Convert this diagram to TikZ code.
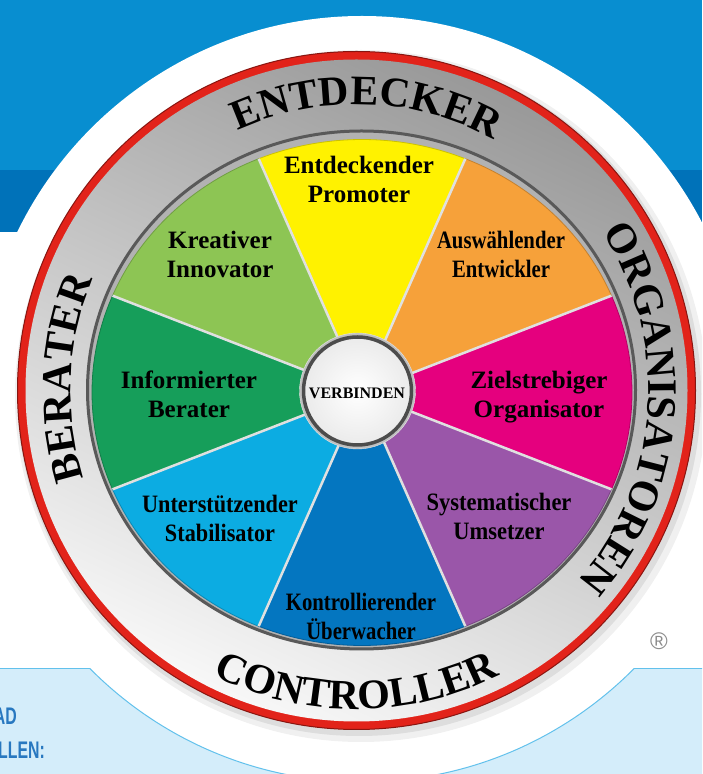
\documentclass[tikz,border=0pt]{standalone}
\usepackage{fontspec}
\setmainfont{Liberation Serif}
\newfontfamily\labelsans{Liberation Sans}
\usetikzlibrary{decorations.text}
\definecolor{topblue}{RGB}{8,142,208}
\definecolor{bandblue}{RGB}{0,114,185}
\definecolor{paleblue}{RGB}{212,237,250}
\definecolor{edgeblue}{RGB}{98,193,236}
\definecolor{ringred}{RGB}{226,35,26}
\definecolor{segyellow}{RGB}{255,242,0}
\definecolor{segorange}{RGB}{246,161,58}
\definecolor{segmagenta}{RGB}{229,0,126}
\definecolor{segpurple}{RGB}{154,86,169}
\definecolor{segdarkblue}{RGB}{4,118,192}
\definecolor{seglightblue}{RGB}{12,172,226}
\definecolor{segdarkgreen}{RGB}{22,158,90}
\definecolor{seglightgreen}{RGB}{141,197,84}
\definecolor{wordblue}{RGB}{40,120,192}
\newcommand\ringfont{\fontsize{42}{42}\selectfont\bfseries}
\newcommand\segfont{\fontsize{25}{29}\selectfont\bfseries}

\begin{document}
\begin{tikzpicture}[x=1pt,y=1pt,
	seglabel/.style={font=\segfont, align=center, inner sep=0pt, anchor=north},
	ringlabel/.style={decorate, decoration={text along path, text align=center, text={|\ringfont|#1}}},
	sepline/.style={draw=black!12, line width=2.5pt}]
\useasboundingbox (0,0) rectangle (702,774);
\clip (0,0) rectangle (702,774);
% background
\fill[topblue] (0,542) rectangle (702,774);
\fill[bandblue] (0,542) rectangle (702,604);
\filldraw[fill=paleblue, draw=edgeblue, line width=1pt] (-2,-2) rectangle (704,105);
\fill[white] (362,375) circle (383);
\begin{scope}
	\clip (0,0) rectangle (702,105);
	\draw[edgeblue, line width=1pt] (362,375) circle (383);
\end{scope}
% shadow and ring
\fill[black, opacity=.06] (361,378) circle (346);
\fill[black, opacity=.08] (359,380) circle (342);
\filldraw[fill=ringred, draw=ringred!60!black, line width=1pt] (356.5,383.5) circle (339);
\shade[top color=black!40, bottom color=black!3, shading angle=-25] (356.5,383.5) circle (331);
\fill[black!30] (361.5,384) ellipse [x radius=275, y radius=260];
\draw[black!65, line width=3pt] (361.5,384) ellipse [x radius=274, y radius=259];
% wedges
\begin{scope}[shift={(362,381.5)}]
	\foreach \a/\col in {-22.5/segmagenta, 22.5/segorange, 67.5/segyellow, 112.5/seglightgreen,
		157.5/segdarkgreen, 202.5/seglightblue, 247.5/segdarkblue, 292.5/segpurple}
		\filldraw[fill=\col, draw=\col!80!black, line width=0.8pt] (0,0) -- (\a:270 and 253)
			arc[start angle=\a, delta angle=45, x radius=270, y radius=253] -- cycle;
	\foreach \a in {-22.5,22.5,...,292.5}
		\draw[sepline] (0,0) -- (\a:270 and 253);
\end{scope}
% hub
\filldraw[fill=black!25, draw=black!10] (357.5,383) circle (58);
\shadedraw[inner color=white, outer color=black!8, draw=black!70, line width=3.5pt] (357.5,383) circle (54);
\node (verbinden) at (357,381) {\fontsize{16}{16}\selectfont\bfseries VERBINDEN};
% segment labels
\node[seglabel] (promoter) at (359,618) {Entdeckender\\Promoter};
\node[seglabel] (innovator) at (220,543) {Kreativer\\Innovator};
\node[seglabel, xscale=0.83] (entwickler) at (501,543) {Auswählender\\Entwickler};
\node[seglabel] (berater) at (189,403) {Informierter\\Berater};
\node[seglabel] (organisator) at (539,403) {Zielstrebiger\\Organisator};
\node[seglabel, xscale=0.89] (stabilisator) at (220,279) {Unterstützender\\Stabilisator};
\node[seglabel, xscale=0.9] (umsetzer) at (499,281) {Systematischer\\Umsetzer};
\node[seglabel, xscale=0.83] (ueberwacher) at (361,181) {Kontrollierender\\Überwacher};
% ring labels
\begin{scope}[shift={(356.5,383.5)}]
	\path[ringlabel=ENTDECKER] (138:286) arc[start angle=138, end angle=38, radius=286];
	\path[ringlabel=ORGANISATOREN] (46:292) arc[start angle=46, end angle=-54, radius=292];
	\path[ringlabel=CONTROLLER] (220:319) arc[start angle=220, end angle=320, radius=319];
	\path[ringlabel=BERATER] (227.5:286) arc[start angle=227.5, end angle=127.5, radius=286];
\end{scope}
% corner texts
\node[font=\labelsans\bfseries\fontsize{24}{24}\selectfont, text=wordblue, xscale=0.66,
	anchor=base east, inner sep=0pt] (rad) at (17,49) {AD};
\node[font=\labelsans\bfseries\fontsize{24}{24}\selectfont, text=wordblue, xscale=0.66,
	anchor=base east, inner sep=0pt] (rollen) at (45,16) {LLEN:};
\node[font=\labelsans\fontsize{24}{24}\selectfont, text=black!45] (reg) at (659,133) {®};
\end{tikzpicture}
\end{document}
